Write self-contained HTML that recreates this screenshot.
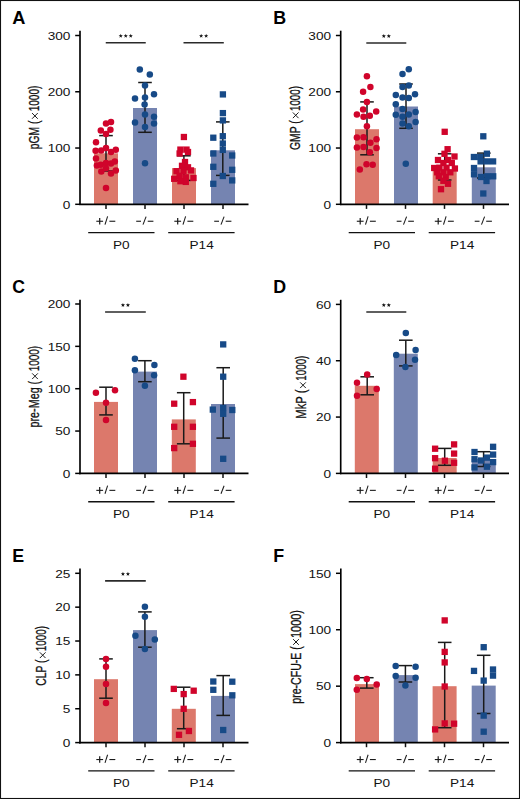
<!DOCTYPE html>
<html><head><meta charset="utf-8"><title>Figure</title>
<style>
html,body{margin:0;padding:0;background:#fff;}
svg{display:block;font-family:"Liberation Sans", sans-serif;}
</style></head>
<body>
<svg width="520" height="799" viewBox="0 0 520 799">
<rect x="0" y="0" width="520" height="799" fill="#fff"/>
<rect x="94" y="153.3" width="24" height="51" fill="#dc786b"/>
<rect x="133" y="108" width="24" height="96.3" fill="#7584b1"/>
<rect x="172" y="168.1" width="24" height="36.2" fill="#dc786b"/>
<rect x="211" y="150.3" width="24" height="54" fill="#7584b1"/>
<line x1="106" y1="135.6" x2="106" y2="171" stroke="#1a1a1a" stroke-width="1.5"/>
<line x1="99.2" y1="135.6" x2="112.8" y2="135.6" stroke="#1a1a1a" stroke-width="1.5"/>
<line x1="99.2" y1="171" x2="112.8" y2="171" stroke="#1a1a1a" stroke-width="1.5"/>
<line x1="145" y1="82.5" x2="145" y2="132.3" stroke="#1a1a1a" stroke-width="1.5"/>
<line x1="138.2" y1="82.5" x2="151.8" y2="82.5" stroke="#1a1a1a" stroke-width="1.5"/>
<line x1="138.2" y1="132.3" x2="151.8" y2="132.3" stroke="#1a1a1a" stroke-width="1.5"/>
<line x1="183.9" y1="155.8" x2="183.9" y2="180.4" stroke="#1a1a1a" stroke-width="1.5"/>
<line x1="177.1" y1="155.8" x2="190.7" y2="155.8" stroke="#1a1a1a" stroke-width="1.5"/>
<line x1="177.1" y1="180.4" x2="190.7" y2="180.4" stroke="#1a1a1a" stroke-width="1.5"/>
<line x1="222.8" y1="121.9" x2="222.8" y2="175.4" stroke="#1a1a1a" stroke-width="1.5"/>
<line x1="216" y1="121.9" x2="229.6" y2="121.9" stroke="#1a1a1a" stroke-width="1.5"/>
<line x1="216" y1="175.4" x2="229.6" y2="175.4" stroke="#1a1a1a" stroke-width="1.5"/>
<circle cx="106" cy="123.5" r="3.25" fill="#d0042b"/>
<circle cx="111" cy="121.9" r="3.25" fill="#d0042b"/>
<circle cx="100.8" cy="130.6" r="3.25" fill="#d0042b"/>
<circle cx="110.4" cy="129.8" r="3.25" fill="#d0042b"/>
<circle cx="106" cy="134" r="3.25" fill="#d0042b"/>
<circle cx="96" cy="142.3" r="3.25" fill="#d0042b"/>
<circle cx="95.6" cy="150.8" r="3.25" fill="#d0042b"/>
<circle cx="101.2" cy="150.4" r="3.25" fill="#d0042b"/>
<circle cx="106" cy="147.9" r="3.25" fill="#d0042b"/>
<circle cx="111" cy="152" r="3.25" fill="#d0042b"/>
<circle cx="115.8" cy="149.8" r="3.25" fill="#d0042b"/>
<circle cx="96" cy="158.5" r="3.25" fill="#d0042b"/>
<circle cx="96.9" cy="165.4" r="3.25" fill="#d0042b"/>
<circle cx="100.8" cy="164.8" r="3.25" fill="#d0042b"/>
<circle cx="106" cy="162.9" r="3.25" fill="#d0042b"/>
<circle cx="111" cy="163.5" r="3.25" fill="#d0042b"/>
<circle cx="114.8" cy="161.5" r="3.25" fill="#d0042b"/>
<circle cx="101.3" cy="171.5" r="3.25" fill="#d0042b"/>
<circle cx="106" cy="168.3" r="3.25" fill="#d0042b"/>
<circle cx="111" cy="173.5" r="3.25" fill="#d0042b"/>
<circle cx="115.8" cy="170.6" r="3.25" fill="#d0042b"/>
<circle cx="106" cy="187.9" r="3.25" fill="#d0042b"/>
<circle cx="139.8" cy="69.6" r="3.25" fill="#174a87"/>
<circle cx="149.8" cy="74.4" r="3.25" fill="#174a87"/>
<circle cx="145" cy="85.6" r="3.25" fill="#174a87"/>
<circle cx="135" cy="98.5" r="3.25" fill="#174a87"/>
<circle cx="145" cy="97.5" r="3.25" fill="#174a87"/>
<circle cx="154" cy="94.2" r="3.25" fill="#174a87"/>
<circle cx="144.6" cy="104.6" r="3.25" fill="#174a87"/>
<circle cx="145" cy="114.4" r="3.25" fill="#174a87"/>
<circle cx="135" cy="122.5" r="3.25" fill="#174a87"/>
<circle cx="154" cy="116.7" r="3.25" fill="#174a87"/>
<circle cx="154" cy="123.5" r="3.25" fill="#174a87"/>
<circle cx="145" cy="127" r="3.25" fill="#174a87"/>
<circle cx="145" cy="163.3" r="3.25" fill="#174a87"/>
<rect x="180.75" y="133.85" width="6.3" height="6.3" fill="#d0042b"/>
<rect x="177.25" y="146.45" width="6.3" height="6.3" fill="#d0042b"/>
<rect x="183.35" y="146.45" width="6.3" height="6.3" fill="#d0042b"/>
<rect x="176.45" y="150.35" width="6.3" height="6.3" fill="#d0042b"/>
<rect x="184.85" y="148.85" width="6.3" height="6.3" fill="#d0042b"/>
<rect x="181.85" y="158.85" width="6.3" height="6.3" fill="#d0042b"/>
<rect x="178.85" y="162.65" width="6.3" height="6.3" fill="#d0042b"/>
<rect x="184.85" y="164.15" width="6.3" height="6.3" fill="#d0042b"/>
<rect x="173.35" y="168.05" width="6.3" height="6.3" fill="#d0042b"/>
<rect x="180.35" y="167.85" width="6.3" height="6.3" fill="#d0042b"/>
<rect x="187.85" y="167.25" width="6.3" height="6.3" fill="#d0042b"/>
<rect x="171.05" y="175.65" width="6.3" height="6.3" fill="#d0042b"/>
<rect x="176.45" y="172.65" width="6.3" height="6.3" fill="#d0042b"/>
<rect x="182.65" y="174.15" width="6.3" height="6.3" fill="#d0042b"/>
<rect x="190.35" y="174.85" width="6.3" height="6.3" fill="#d0042b"/>
<rect x="182.65" y="178.75" width="6.3" height="6.3" fill="#d0042b"/>
<rect x="177.25" y="178.05" width="6.3" height="6.3" fill="#d0042b"/>
<rect x="219.75" y="91.25" width="6.3" height="6.3" fill="#174a87"/>
<rect x="219.75" y="109.95" width="6.3" height="6.3" fill="#174a87"/>
<rect x="219.75" y="117.25" width="6.3" height="6.3" fill="#174a87"/>
<rect x="210.15" y="134.55" width="6.3" height="6.3" fill="#174a87"/>
<rect x="219.65" y="133.05" width="6.3" height="6.3" fill="#174a87"/>
<rect x="219.65" y="140.35" width="6.3" height="6.3" fill="#174a87"/>
<rect x="219.65" y="146.75" width="6.3" height="6.3" fill="#174a87"/>
<rect x="210.15" y="150.35" width="6.3" height="6.3" fill="#174a87"/>
<rect x="229.05" y="152.35" width="6.3" height="6.3" fill="#174a87"/>
<rect x="210.15" y="163.65" width="6.3" height="6.3" fill="#174a87"/>
<rect x="229.05" y="166.65" width="6.3" height="6.3" fill="#174a87"/>
<rect x="219.65" y="172.85" width="6.3" height="6.3" fill="#174a87"/>
<rect x="229.05" y="177.25" width="6.3" height="6.3" fill="#174a87"/>
<rect x="210.15" y="180.65" width="6.3" height="6.3" fill="#174a87"/>
<line x1="80" y1="30.7" x2="80" y2="205.1" stroke="#000" stroke-width="1.65"/>
<line x1="79.2" y1="204.3" x2="248.5" y2="204.3" stroke="#000" stroke-width="1.65"/>
<line x1="75.2" y1="35.5" x2="80" y2="35.5" stroke="#000" stroke-width="1.5"/>
<text transform="translate(70.4,39.75) scale(1.156,1)" font-size="11.8" text-anchor="end" font-weight="normal" fill="#111">300</text>
<line x1="75.2" y1="91.77" x2="80" y2="91.77" stroke="#000" stroke-width="1.5"/>
<text transform="translate(70.4,96.02) scale(1.156,1)" font-size="11.8" text-anchor="end" font-weight="normal" fill="#111">200</text>
<line x1="75.2" y1="148.03" x2="80" y2="148.03" stroke="#000" stroke-width="1.5"/>
<text transform="translate(70.4,152.28) scale(1.156,1)" font-size="11.8" text-anchor="end" font-weight="normal" fill="#111">100</text>
<line x1="75.2" y1="204.3" x2="80" y2="204.3" stroke="#000" stroke-width="1.5"/>
<text transform="translate(70.4,208.55) scale(1.156,1)" font-size="11.8" text-anchor="end" font-weight="normal" fill="#111">0</text>
<line x1="106" y1="204.3" x2="106" y2="208.9" stroke="#111" stroke-width="1.5"/>
<line x1="145" y1="204.3" x2="145" y2="208.9" stroke="#111" stroke-width="1.5"/>
<line x1="184" y1="204.3" x2="184" y2="208.9" stroke="#111" stroke-width="1.5"/>
<line x1="223" y1="204.3" x2="223" y2="208.9" stroke="#111" stroke-width="1.5"/>
<line x1="96.3" y1="221.25" x2="103.1" y2="221.25" stroke="#1a1a1a" stroke-width="1.1"/>
<line x1="99.7" y1="217.95" x2="99.7" y2="224.55" stroke="#1a1a1a" stroke-width="1.2"/>
<line x1="105" y1="224.65" x2="107.6" y2="216.45" stroke="#1a1a1a" stroke-width="1.05"/>
<line x1="109.4" y1="221.25" x2="115.3" y2="221.25" stroke="#1a1a1a" stroke-width="1.1"/>
<line x1="136.2" y1="221.25" x2="141" y2="221.25" stroke="#1a1a1a" stroke-width="1.1"/>
<line x1="143" y1="224.65" x2="146.1" y2="216.65" stroke="#1a1a1a" stroke-width="1.05"/>
<line x1="147.7" y1="221.25" x2="153.4" y2="221.25" stroke="#1a1a1a" stroke-width="1.1"/>
<line x1="174.3" y1="221.25" x2="181.1" y2="221.25" stroke="#1a1a1a" stroke-width="1.1"/>
<line x1="177.7" y1="217.95" x2="177.7" y2="224.55" stroke="#1a1a1a" stroke-width="1.2"/>
<line x1="183" y1="224.65" x2="185.6" y2="216.45" stroke="#1a1a1a" stroke-width="1.05"/>
<line x1="187.4" y1="221.25" x2="193.3" y2="221.25" stroke="#1a1a1a" stroke-width="1.1"/>
<line x1="214.2" y1="221.25" x2="219" y2="221.25" stroke="#1a1a1a" stroke-width="1.1"/>
<line x1="221" y1="224.65" x2="224.1" y2="216.65" stroke="#1a1a1a" stroke-width="1.05"/>
<line x1="225.7" y1="221.25" x2="231.4" y2="221.25" stroke="#1a1a1a" stroke-width="1.1"/>
<line x1="88.2" y1="232.6" x2="154.5" y2="232.6" stroke="#111" stroke-width="1.4"/>
<line x1="168.2" y1="232.6" x2="234.6" y2="232.6" stroke="#111" stroke-width="1.4"/>
<text transform="translate(121.3,248.7) scale(1.156,1)" font-size="11.8" text-anchor="middle" font-weight="normal" fill="#111">P0</text>
<text transform="translate(201.6,248.7) scale(1.156,1)" font-size="11.8" text-anchor="middle" font-weight="normal" fill="#111">P14</text>
<line x1="105.75" y1="42.8" x2="145.75" y2="42.8" stroke="#2a2a2a" stroke-width="1.6"/>
<polygon points="120.75,33.7 121.29,35.15 122.84,35.22 121.63,36.19 122.04,37.68 120.75,36.82 119.46,37.68 119.87,36.19 118.66,35.22 120.21,35.15" fill="#111"/>
<polygon points="125.75,33.7 126.29,35.15 127.84,35.22 126.63,36.19 127.04,37.68 125.75,36.82 124.46,37.68 124.87,36.19 123.66,35.22 125.21,35.15" fill="#111"/>
<polygon points="130.75,33.7 131.29,35.15 132.84,35.22 131.63,36.19 132.04,37.68 130.75,36.82 129.46,37.68 129.87,36.19 128.66,35.22 130.21,35.15" fill="#111"/>
<line x1="183.5" y1="42.8" x2="223.8" y2="42.8" stroke="#2a2a2a" stroke-width="1.6"/>
<polygon points="201.15,33.7 201.69,35.15 203.24,35.22 202.03,36.19 202.44,37.68 201.15,36.82 199.86,37.68 200.27,36.19 199.06,35.22 200.61,35.15" fill="#111"/>
<polygon points="206.15,33.7 206.69,35.15 208.24,35.22 207.03,36.19 207.44,37.68 206.15,36.82 204.86,37.68 205.27,36.19 204.06,35.22 205.61,35.15" fill="#111"/>
<text transform="translate(12.2,24) scale(0.95,1)" font-size="19.2" text-anchor="start" font-weight="bold" fill="#000">A</text>
<text transform="translate(38.6,149.26) rotate(-90) scale(0.6893,1)" font-size="15.0" fill="#111" stroke="#111" stroke-width="0.3">pGM (</text>
<text transform="translate(38.6,111.36) rotate(-90) scale(0.6694,1)" font-size="15.0" fill="#111" stroke="#111" stroke-width="0.3">1000)</text>
<line x1="32.05" y1="113.05" x2="37.75" y2="118.75" stroke="#111" stroke-width="0.95"/>
<line x1="32.05" y1="118.75" x2="37.75" y2="113.05" stroke="#111" stroke-width="0.95"/>
<rect x="355" y="129.2" width="24" height="75.1" fill="#dc786b"/>
<rect x="394" y="106.5" width="24" height="97.8" fill="#7584b1"/>
<rect x="432.7" y="171" width="24" height="33.3" fill="#dc786b"/>
<rect x="471.8" y="167.3" width="24" height="37" fill="#7584b1"/>
<line x1="367" y1="101.9" x2="367" y2="154.8" stroke="#1a1a1a" stroke-width="1.5"/>
<line x1="360.2" y1="101.9" x2="373.8" y2="101.9" stroke="#1a1a1a" stroke-width="1.5"/>
<line x1="360.2" y1="154.8" x2="373.8" y2="154.8" stroke="#1a1a1a" stroke-width="1.5"/>
<line x1="406" y1="84" x2="406" y2="128.3" stroke="#1a1a1a" stroke-width="1.5"/>
<line x1="399.2" y1="84" x2="412.8" y2="84" stroke="#1a1a1a" stroke-width="1.5"/>
<line x1="399.2" y1="128.3" x2="412.8" y2="128.3" stroke="#1a1a1a" stroke-width="1.5"/>
<line x1="444.7" y1="153.8" x2="444.7" y2="180" stroke="#1a1a1a" stroke-width="1.5"/>
<line x1="437.9" y1="153.8" x2="451.5" y2="153.8" stroke="#1a1a1a" stroke-width="1.5"/>
<line x1="437.9" y1="180" x2="451.5" y2="180" stroke="#1a1a1a" stroke-width="1.5"/>
<line x1="483.8" y1="153.1" x2="483.8" y2="178" stroke="#1a1a1a" stroke-width="1.5"/>
<line x1="477" y1="153.1" x2="490.6" y2="153.1" stroke="#1a1a1a" stroke-width="1.5"/>
<line x1="477" y1="178" x2="490.6" y2="178" stroke="#1a1a1a" stroke-width="1.5"/>
<circle cx="366.9" cy="76.3" r="3.25" fill="#d0042b"/>
<circle cx="370.4" cy="86.9" r="3.25" fill="#d0042b"/>
<circle cx="363.1" cy="91.7" r="3.25" fill="#d0042b"/>
<circle cx="366.9" cy="101.9" r="3.25" fill="#d0042b"/>
<circle cx="363.1" cy="109.6" r="3.25" fill="#d0042b"/>
<circle cx="376.2" cy="111.5" r="3.25" fill="#d0042b"/>
<circle cx="356.9" cy="114.4" r="3.25" fill="#d0042b"/>
<circle cx="363.5" cy="116.7" r="3.25" fill="#d0042b"/>
<circle cx="369.8" cy="115.8" r="3.25" fill="#d0042b"/>
<circle cx="366.9" cy="126.3" r="3.25" fill="#d0042b"/>
<circle cx="356.9" cy="137.5" r="3.25" fill="#d0042b"/>
<circle cx="363.5" cy="137.3" r="3.25" fill="#d0042b"/>
<circle cx="376.5" cy="139.2" r="3.25" fill="#d0042b"/>
<circle cx="370.4" cy="142.7" r="3.25" fill="#d0042b"/>
<circle cx="356.9" cy="147.5" r="3.25" fill="#d0042b"/>
<circle cx="363.5" cy="146.9" r="3.25" fill="#d0042b"/>
<circle cx="376.5" cy="148.1" r="3.25" fill="#d0042b"/>
<circle cx="369.8" cy="152.3" r="3.25" fill="#d0042b"/>
<circle cx="366.5" cy="164.2" r="3.25" fill="#d0042b"/>
<circle cx="372.7" cy="164.8" r="3.25" fill="#d0042b"/>
<circle cx="359.8" cy="169.4" r="3.25" fill="#d0042b"/>
<circle cx="408.8" cy="69.2" r="3.25" fill="#174a87"/>
<circle cx="402.5" cy="74" r="3.25" fill="#174a87"/>
<circle cx="402.5" cy="86.9" r="3.25" fill="#174a87"/>
<circle cx="408.8" cy="85.6" r="3.25" fill="#174a87"/>
<circle cx="395.8" cy="95" r="3.25" fill="#174a87"/>
<circle cx="415" cy="94.2" r="3.25" fill="#174a87"/>
<circle cx="402.5" cy="97.5" r="3.25" fill="#174a87"/>
<circle cx="408.8" cy="98.1" r="3.25" fill="#174a87"/>
<circle cx="395.8" cy="104.2" r="3.25" fill="#174a87"/>
<circle cx="402.5" cy="109" r="3.25" fill="#174a87"/>
<circle cx="395.8" cy="114.8" r="3.25" fill="#174a87"/>
<circle cx="402.5" cy="116.7" r="3.25" fill="#174a87"/>
<circle cx="408.8" cy="114.4" r="3.25" fill="#174a87"/>
<circle cx="415.6" cy="111.9" r="3.25" fill="#174a87"/>
<circle cx="415.6" cy="121.9" r="3.25" fill="#174a87"/>
<circle cx="402.5" cy="123.5" r="3.25" fill="#174a87"/>
<circle cx="408.8" cy="126.3" r="3.25" fill="#174a87"/>
<circle cx="405.8" cy="163.8" r="3.25" fill="#174a87"/>
<rect x="441.55" y="128.65" width="6.3" height="6.3" fill="#d0042b"/>
<rect x="444.45" y="146.05" width="6.3" height="6.3" fill="#d0042b"/>
<rect x="441.35" y="150.65" width="6.3" height="6.3" fill="#d0042b"/>
<rect x="451.35" y="153.35" width="6.3" height="6.3" fill="#d0042b"/>
<rect x="434.85" y="156.85" width="6.3" height="6.3" fill="#d0042b"/>
<rect x="444.85" y="156.85" width="6.3" height="6.3" fill="#d0042b"/>
<rect x="440.25" y="159.85" width="6.3" height="6.3" fill="#d0042b"/>
<rect x="448.65" y="159.85" width="6.3" height="6.3" fill="#d0042b"/>
<rect x="431.05" y="164.85" width="6.3" height="6.3" fill="#d0042b"/>
<rect x="436.35" y="164.55" width="6.3" height="6.3" fill="#d0042b"/>
<rect x="443.35" y="164.55" width="6.3" height="6.3" fill="#d0042b"/>
<rect x="451.75" y="165.35" width="6.3" height="6.3" fill="#d0042b"/>
<rect x="434.05" y="169.15" width="6.3" height="6.3" fill="#d0042b"/>
<rect x="440.25" y="169.15" width="6.3" height="6.3" fill="#d0042b"/>
<rect x="447.15" y="169.15" width="6.3" height="6.3" fill="#d0042b"/>
<rect x="435.65" y="173.05" width="6.3" height="6.3" fill="#d0042b"/>
<rect x="442.55" y="173.85" width="6.3" height="6.3" fill="#d0042b"/>
<rect x="440.25" y="177.65" width="6.3" height="6.3" fill="#d0042b"/>
<rect x="444.85" y="180.65" width="6.3" height="6.3" fill="#d0042b"/>
<rect x="437.85" y="186.05" width="6.3" height="6.3" fill="#d0042b"/>
<rect x="480.15" y="133.15" width="6.3" height="6.3" fill="#174a87"/>
<rect x="483.75" y="150.55" width="6.3" height="6.3" fill="#174a87"/>
<rect x="470.75" y="153.85" width="6.3" height="6.3" fill="#174a87"/>
<rect x="477.05" y="153.85" width="6.3" height="6.3" fill="#174a87"/>
<rect x="477.45" y="158.25" width="6.3" height="6.3" fill="#174a87"/>
<rect x="483.75" y="158.25" width="6.3" height="6.3" fill="#174a87"/>
<rect x="489.95" y="158.25" width="6.3" height="6.3" fill="#174a87"/>
<rect x="470.85" y="164.85" width="6.3" height="6.3" fill="#174a87"/>
<rect x="470.85" y="171.15" width="6.3" height="6.3" fill="#174a87"/>
<rect x="477.85" y="173.85" width="6.3" height="6.3" fill="#174a87"/>
<rect x="484.25" y="173.15" width="6.3" height="6.3" fill="#174a87"/>
<rect x="490.05" y="173.15" width="6.3" height="6.3" fill="#174a87"/>
<rect x="483.35" y="177.85" width="6.3" height="6.3" fill="#174a87"/>
<rect x="480.15" y="190.35" width="6.3" height="6.3" fill="#174a87"/>
<line x1="340.7" y1="30.7" x2="340.7" y2="205.1" stroke="#000" stroke-width="1.65"/>
<line x1="339.9" y1="204.3" x2="509" y2="204.3" stroke="#000" stroke-width="1.65"/>
<line x1="335.9" y1="35.5" x2="340.7" y2="35.5" stroke="#000" stroke-width="1.5"/>
<text transform="translate(331.1,39.75) scale(1.156,1)" font-size="11.8" text-anchor="end" font-weight="normal" fill="#111">300</text>
<line x1="335.9" y1="91.77" x2="340.7" y2="91.77" stroke="#000" stroke-width="1.5"/>
<text transform="translate(331.1,96.02) scale(1.156,1)" font-size="11.8" text-anchor="end" font-weight="normal" fill="#111">200</text>
<line x1="335.9" y1="148.03" x2="340.7" y2="148.03" stroke="#000" stroke-width="1.5"/>
<text transform="translate(331.1,152.28) scale(1.156,1)" font-size="11.8" text-anchor="end" font-weight="normal" fill="#111">100</text>
<line x1="335.9" y1="204.3" x2="340.7" y2="204.3" stroke="#000" stroke-width="1.5"/>
<text transform="translate(331.1,208.55) scale(1.156,1)" font-size="11.8" text-anchor="end" font-weight="normal" fill="#111">0</text>
<line x1="366.5" y1="204.3" x2="366.5" y2="208.9" stroke="#111" stroke-width="1.5"/>
<line x1="405.5" y1="204.3" x2="405.5" y2="208.9" stroke="#111" stroke-width="1.5"/>
<line x1="444.5" y1="204.3" x2="444.5" y2="208.9" stroke="#111" stroke-width="1.5"/>
<line x1="483.5" y1="204.3" x2="483.5" y2="208.9" stroke="#111" stroke-width="1.5"/>
<line x1="356.8" y1="221.25" x2="363.6" y2="221.25" stroke="#1a1a1a" stroke-width="1.1"/>
<line x1="360.2" y1="217.95" x2="360.2" y2="224.55" stroke="#1a1a1a" stroke-width="1.2"/>
<line x1="365.5" y1="224.65" x2="368.1" y2="216.45" stroke="#1a1a1a" stroke-width="1.05"/>
<line x1="369.9" y1="221.25" x2="375.8" y2="221.25" stroke="#1a1a1a" stroke-width="1.1"/>
<line x1="396.7" y1="221.25" x2="401.5" y2="221.25" stroke="#1a1a1a" stroke-width="1.1"/>
<line x1="403.5" y1="224.65" x2="406.6" y2="216.65" stroke="#1a1a1a" stroke-width="1.05"/>
<line x1="408.2" y1="221.25" x2="413.9" y2="221.25" stroke="#1a1a1a" stroke-width="1.1"/>
<line x1="434.8" y1="221.25" x2="441.6" y2="221.25" stroke="#1a1a1a" stroke-width="1.1"/>
<line x1="438.2" y1="217.95" x2="438.2" y2="224.55" stroke="#1a1a1a" stroke-width="1.2"/>
<line x1="443.5" y1="224.65" x2="446.1" y2="216.45" stroke="#1a1a1a" stroke-width="1.05"/>
<line x1="447.9" y1="221.25" x2="453.8" y2="221.25" stroke="#1a1a1a" stroke-width="1.1"/>
<line x1="474.7" y1="221.25" x2="479.5" y2="221.25" stroke="#1a1a1a" stroke-width="1.1"/>
<line x1="481.5" y1="224.65" x2="484.6" y2="216.65" stroke="#1a1a1a" stroke-width="1.05"/>
<line x1="486.2" y1="221.25" x2="491.9" y2="221.25" stroke="#1a1a1a" stroke-width="1.1"/>
<line x1="348.7" y1="232.6" x2="415" y2="232.6" stroke="#111" stroke-width="1.4"/>
<line x1="428.7" y1="232.6" x2="495.1" y2="232.6" stroke="#111" stroke-width="1.4"/>
<text transform="translate(381.8,248.7) scale(1.156,1)" font-size="11.8" text-anchor="middle" font-weight="normal" fill="#111">P0</text>
<text transform="translate(462.1,248.7) scale(1.156,1)" font-size="11.8" text-anchor="middle" font-weight="normal" fill="#111">P14</text>
<line x1="366.3" y1="43" x2="406.3" y2="43" stroke="#2a2a2a" stroke-width="1.6"/>
<polygon points="383.8,33.9 384.34,35.35 385.89,35.42 384.68,36.39 385.09,37.88 383.8,37.02 382.51,37.88 382.92,36.39 381.71,35.42 383.26,35.35" fill="#111"/>
<polygon points="388.8,33.9 389.34,35.35 390.89,35.42 389.68,36.39 390.09,37.88 388.8,37.02 387.51,37.88 387.92,36.39 386.71,35.42 388.26,35.35" fill="#111"/>
<text transform="translate(273.2,23.7) scale(0.93,1)" font-size="19.2" text-anchor="start" font-weight="bold" fill="#000">B</text>
<text transform="translate(299.6,150.12) rotate(-90) scale(0.6963,1)" font-size="15.0" fill="#111" stroke="#111" stroke-width="0.3">GMP (</text>
<text transform="translate(299.6,110.94) rotate(-90) scale(0.6474,1)" font-size="15.0" fill="#111" stroke="#111" stroke-width="0.3">1000)</text>
<line x1="292.85" y1="112.45" x2="298.55" y2="118.15" stroke="#111" stroke-width="0.95"/>
<line x1="292.85" y1="118.15" x2="298.55" y2="112.45" stroke="#111" stroke-width="0.95"/>
<rect x="94" y="401.9" width="24" height="71.5" fill="#dc786b"/>
<rect x="133" y="371.6" width="24" height="101.8" fill="#7584b1"/>
<rect x="171.8" y="419.4" width="24" height="54" fill="#dc786b"/>
<rect x="211" y="404" width="24" height="69.4" fill="#7584b1"/>
<line x1="106" y1="387.2" x2="106" y2="414.9" stroke="#1a1a1a" stroke-width="1.5"/>
<line x1="99.2" y1="387.2" x2="112.8" y2="387.2" stroke="#1a1a1a" stroke-width="1.5"/>
<line x1="99.2" y1="414.9" x2="112.8" y2="414.9" stroke="#1a1a1a" stroke-width="1.5"/>
<line x1="144.9" y1="360.7" x2="144.9" y2="381.7" stroke="#1a1a1a" stroke-width="1.5"/>
<line x1="138.1" y1="360.7" x2="151.7" y2="360.7" stroke="#1a1a1a" stroke-width="1.5"/>
<line x1="138.1" y1="381.7" x2="151.7" y2="381.7" stroke="#1a1a1a" stroke-width="1.5"/>
<line x1="183.7" y1="392.7" x2="183.7" y2="443.8" stroke="#1a1a1a" stroke-width="1.5"/>
<line x1="176.9" y1="392.7" x2="190.5" y2="392.7" stroke="#1a1a1a" stroke-width="1.5"/>
<line x1="176.9" y1="443.8" x2="190.5" y2="443.8" stroke="#1a1a1a" stroke-width="1.5"/>
<line x1="223.2" y1="367.7" x2="223.2" y2="438.1" stroke="#1a1a1a" stroke-width="1.5"/>
<line x1="216.4" y1="367.7" x2="230" y2="367.7" stroke="#1a1a1a" stroke-width="1.5"/>
<line x1="216.4" y1="438.1" x2="230" y2="438.1" stroke="#1a1a1a" stroke-width="1.5"/>
<circle cx="95.9" cy="392.7" r="3.25" fill="#d0042b"/>
<circle cx="115" cy="390.2" r="3.25" fill="#d0042b"/>
<circle cx="106" cy="402.8" r="3.25" fill="#d0042b"/>
<circle cx="106" cy="420.1" r="3.25" fill="#d0042b"/>
<circle cx="134.9" cy="358.7" r="3.25" fill="#174a87"/>
<circle cx="154.4" cy="364.9" r="3.25" fill="#174a87"/>
<circle cx="134.9" cy="370.3" r="3.25" fill="#174a87"/>
<circle cx="154.1" cy="375.3" r="3.25" fill="#174a87"/>
<circle cx="144.9" cy="385.8" r="3.25" fill="#174a87"/>
<rect x="180.25" y="373.55" width="6.3" height="6.3" fill="#d0042b"/>
<rect x="171.05" y="400.55" width="6.3" height="6.3" fill="#d0042b"/>
<rect x="189.75" y="398.95" width="6.3" height="6.3" fill="#d0042b"/>
<rect x="171.05" y="423.65" width="6.3" height="6.3" fill="#d0042b"/>
<rect x="189.75" y="423.65" width="6.3" height="6.3" fill="#d0042b"/>
<rect x="171.05" y="444.95" width="6.3" height="6.3" fill="#d0042b"/>
<rect x="189.75" y="440.65" width="6.3" height="6.3" fill="#d0042b"/>
<rect x="220.05" y="341.25" width="6.3" height="6.3" fill="#174a87"/>
<rect x="220.05" y="373.55" width="6.3" height="6.3" fill="#174a87"/>
<rect x="209.65" y="406.45" width="6.3" height="6.3" fill="#174a87"/>
<rect x="220.05" y="404.85" width="6.3" height="6.3" fill="#174a87"/>
<rect x="220.05" y="410.65" width="6.3" height="6.3" fill="#174a87"/>
<rect x="229.15" y="406.85" width="6.3" height="6.3" fill="#174a87"/>
<rect x="220.05" y="455.65" width="6.3" height="6.3" fill="#174a87"/>
<line x1="80" y1="299.8" x2="80" y2="474.2" stroke="#000" stroke-width="1.65"/>
<line x1="79.2" y1="473.4" x2="248.5" y2="473.4" stroke="#000" stroke-width="1.65"/>
<line x1="75.2" y1="304" x2="80" y2="304" stroke="#000" stroke-width="1.5"/>
<text transform="translate(70.4,308.25) scale(1.156,1)" font-size="11.8" text-anchor="end" font-weight="normal" fill="#111">200</text>
<line x1="75.2" y1="346.35" x2="80" y2="346.35" stroke="#000" stroke-width="1.5"/>
<text transform="translate(70.4,350.6) scale(1.156,1)" font-size="11.8" text-anchor="end" font-weight="normal" fill="#111">150</text>
<line x1="75.2" y1="388.7" x2="80" y2="388.7" stroke="#000" stroke-width="1.5"/>
<text transform="translate(70.4,392.95) scale(1.156,1)" font-size="11.8" text-anchor="end" font-weight="normal" fill="#111">100</text>
<line x1="75.2" y1="431.05" x2="80" y2="431.05" stroke="#000" stroke-width="1.5"/>
<text transform="translate(70.4,435.3) scale(1.156,1)" font-size="11.8" text-anchor="end" font-weight="normal" fill="#111">50</text>
<line x1="75.2" y1="473.4" x2="80" y2="473.4" stroke="#000" stroke-width="1.5"/>
<text transform="translate(70.4,477.65) scale(1.156,1)" font-size="11.8" text-anchor="end" font-weight="normal" fill="#111">0</text>
<line x1="106" y1="473.4" x2="106" y2="478" stroke="#111" stroke-width="1.5"/>
<line x1="145" y1="473.4" x2="145" y2="478" stroke="#111" stroke-width="1.5"/>
<line x1="184" y1="473.4" x2="184" y2="478" stroke="#111" stroke-width="1.5"/>
<line x1="223" y1="473.4" x2="223" y2="478" stroke="#111" stroke-width="1.5"/>
<line x1="96.3" y1="490.35" x2="103.1" y2="490.35" stroke="#1a1a1a" stroke-width="1.1"/>
<line x1="99.7" y1="487.05" x2="99.7" y2="493.65" stroke="#1a1a1a" stroke-width="1.2"/>
<line x1="105" y1="493.75" x2="107.6" y2="485.55" stroke="#1a1a1a" stroke-width="1.05"/>
<line x1="109.4" y1="490.35" x2="115.3" y2="490.35" stroke="#1a1a1a" stroke-width="1.1"/>
<line x1="136.2" y1="490.35" x2="141" y2="490.35" stroke="#1a1a1a" stroke-width="1.1"/>
<line x1="143" y1="493.75" x2="146.1" y2="485.75" stroke="#1a1a1a" stroke-width="1.05"/>
<line x1="147.7" y1="490.35" x2="153.4" y2="490.35" stroke="#1a1a1a" stroke-width="1.1"/>
<line x1="174.3" y1="490.35" x2="181.1" y2="490.35" stroke="#1a1a1a" stroke-width="1.1"/>
<line x1="177.7" y1="487.05" x2="177.7" y2="493.65" stroke="#1a1a1a" stroke-width="1.2"/>
<line x1="183" y1="493.75" x2="185.6" y2="485.55" stroke="#1a1a1a" stroke-width="1.05"/>
<line x1="187.4" y1="490.35" x2="193.3" y2="490.35" stroke="#1a1a1a" stroke-width="1.1"/>
<line x1="214.2" y1="490.35" x2="219" y2="490.35" stroke="#1a1a1a" stroke-width="1.1"/>
<line x1="221" y1="493.75" x2="224.1" y2="485.75" stroke="#1a1a1a" stroke-width="1.05"/>
<line x1="225.7" y1="490.35" x2="231.4" y2="490.35" stroke="#1a1a1a" stroke-width="1.1"/>
<line x1="88.2" y1="501.7" x2="154.5" y2="501.7" stroke="#111" stroke-width="1.4"/>
<line x1="168.2" y1="501.7" x2="234.6" y2="501.7" stroke="#111" stroke-width="1.4"/>
<text transform="translate(121.3,517.8) scale(1.156,1)" font-size="11.8" text-anchor="middle" font-weight="normal" fill="#111">P0</text>
<text transform="translate(201.6,517.8) scale(1.156,1)" font-size="11.8" text-anchor="middle" font-weight="normal" fill="#111">P14</text>
<line x1="105.1" y1="312" x2="145.8" y2="312" stroke="#2a2a2a" stroke-width="1.6"/>
<polygon points="122.95,302.9 123.49,304.35 125.04,304.42 123.83,305.39 124.24,306.88 122.95,306.02 121.66,306.88 122.07,305.39 120.86,304.42 122.41,304.35" fill="#111"/>
<polygon points="127.95,302.9 128.49,304.35 130.04,304.42 128.83,305.39 129.24,306.88 127.95,306.02 126.66,306.88 127.07,305.39 125.86,304.42 127.41,304.35" fill="#111"/>
<text transform="translate(12.2,293.2) scale(0.92,1)" font-size="19.2" text-anchor="start" font-weight="bold" fill="#000">C</text>
<text transform="translate(38.6,427.49) rotate(-90) scale(0.7190,1)" font-size="15.0" fill="#111" stroke="#111" stroke-width="0.3">pre-Meg (</text>
<text transform="translate(38.6,371.35) rotate(-90) scale(0.6612,1)" font-size="15.0" fill="#111" stroke="#111" stroke-width="0.3">1000)</text>
<line x1="32.15" y1="373.35" x2="37.85" y2="379.05" stroke="#111" stroke-width="0.95"/>
<line x1="32.15" y1="379.05" x2="37.85" y2="373.35" stroke="#111" stroke-width="0.95"/>
<rect x="354.8" y="385.8" width="24" height="87.6" fill="#dc786b"/>
<rect x="393.8" y="353.7" width="24" height="119.7" fill="#7584b1"/>
<rect x="432.7" y="458" width="24" height="15.4" fill="#dc786b"/>
<rect x="471.8" y="459" width="24" height="14.4" fill="#7584b1"/>
<line x1="367.2" y1="376.8" x2="367.2" y2="394.8" stroke="#1a1a1a" stroke-width="1.5"/>
<line x1="360.4" y1="376.8" x2="374" y2="376.8" stroke="#1a1a1a" stroke-width="1.5"/>
<line x1="360.4" y1="394.8" x2="374" y2="394.8" stroke="#1a1a1a" stroke-width="1.5"/>
<line x1="405.8" y1="340.2" x2="405.8" y2="365.9" stroke="#1a1a1a" stroke-width="1.5"/>
<line x1="399" y1="340.2" x2="412.6" y2="340.2" stroke="#1a1a1a" stroke-width="1.5"/>
<line x1="399" y1="365.9" x2="412.6" y2="365.9" stroke="#1a1a1a" stroke-width="1.5"/>
<line x1="444.7" y1="448.4" x2="444.7" y2="465.3" stroke="#1a1a1a" stroke-width="1.5"/>
<line x1="437.9" y1="448.4" x2="451.5" y2="448.4" stroke="#1a1a1a" stroke-width="1.5"/>
<line x1="437.9" y1="465.3" x2="451.5" y2="465.3" stroke="#1a1a1a" stroke-width="1.5"/>
<line x1="483.6" y1="451.7" x2="483.6" y2="466.5" stroke="#1a1a1a" stroke-width="1.5"/>
<line x1="476.8" y1="451.7" x2="490.4" y2="451.7" stroke="#1a1a1a" stroke-width="1.5"/>
<line x1="476.8" y1="466.5" x2="490.4" y2="466.5" stroke="#1a1a1a" stroke-width="1.5"/>
<circle cx="367.2" cy="374.5" r="3.25" fill="#d0042b"/>
<circle cx="357" cy="382.8" r="3.25" fill="#d0042b"/>
<circle cx="376.7" cy="388.9" r="3.25" fill="#d0042b"/>
<circle cx="357" cy="395.8" r="3.25" fill="#d0042b"/>
<circle cx="405.8" cy="333" r="3.25" fill="#174a87"/>
<circle cx="396.2" cy="355" r="3.25" fill="#174a87"/>
<circle cx="415.6" cy="350" r="3.25" fill="#174a87"/>
<circle cx="415" cy="359.8" r="3.25" fill="#174a87"/>
<circle cx="405.4" cy="367.1" r="3.25" fill="#174a87"/>
<rect x="431.95" y="445.55" width="6.3" height="6.3" fill="#d0042b"/>
<rect x="450.95" y="441.25" width="6.3" height="6.3" fill="#d0042b"/>
<rect x="450.95" y="450.45" width="6.3" height="6.3" fill="#d0042b"/>
<rect x="431.95" y="455.05" width="6.3" height="6.3" fill="#d0042b"/>
<rect x="441.75" y="457.55" width="6.3" height="6.3" fill="#d0042b"/>
<rect x="450.95" y="459.65" width="6.3" height="6.3" fill="#d0042b"/>
<rect x="431.95" y="465.55" width="6.3" height="6.3" fill="#d0042b"/>
<rect x="471.35" y="448.85" width="6.3" height="6.3" fill="#174a87"/>
<rect x="489.95" y="443.65" width="6.3" height="6.3" fill="#174a87"/>
<rect x="489.95" y="451.45" width="6.3" height="6.3" fill="#174a87"/>
<rect x="471.35" y="456.05" width="6.3" height="6.3" fill="#174a87"/>
<rect x="477.85" y="457.35" width="6.3" height="6.3" fill="#174a87"/>
<rect x="483.75" y="454.45" width="6.3" height="6.3" fill="#174a87"/>
<rect x="489.95" y="458.95" width="6.3" height="6.3" fill="#174a87"/>
<rect x="471.35" y="464.25" width="6.3" height="6.3" fill="#174a87"/>
<rect x="483.75" y="463.55" width="6.3" height="6.3" fill="#174a87"/>
<line x1="340.7" y1="299.8" x2="340.7" y2="474.2" stroke="#000" stroke-width="1.65"/>
<line x1="339.9" y1="473.4" x2="509" y2="473.4" stroke="#000" stroke-width="1.65"/>
<line x1="335.9" y1="304.4" x2="340.7" y2="304.4" stroke="#000" stroke-width="1.5"/>
<text transform="translate(331.1,308.65) scale(1.156,1)" font-size="11.8" text-anchor="end" font-weight="normal" fill="#111">60</text>
<line x1="335.9" y1="360.73" x2="340.7" y2="360.73" stroke="#000" stroke-width="1.5"/>
<text transform="translate(331.1,364.98) scale(1.156,1)" font-size="11.8" text-anchor="end" font-weight="normal" fill="#111">40</text>
<line x1="335.9" y1="417.07" x2="340.7" y2="417.07" stroke="#000" stroke-width="1.5"/>
<text transform="translate(331.1,421.32) scale(1.156,1)" font-size="11.8" text-anchor="end" font-weight="normal" fill="#111">20</text>
<line x1="335.9" y1="473.4" x2="340.7" y2="473.4" stroke="#000" stroke-width="1.5"/>
<text transform="translate(331.1,477.65) scale(1.156,1)" font-size="11.8" text-anchor="end" font-weight="normal" fill="#111">0</text>
<line x1="366.5" y1="473.4" x2="366.5" y2="478" stroke="#111" stroke-width="1.5"/>
<line x1="405.5" y1="473.4" x2="405.5" y2="478" stroke="#111" stroke-width="1.5"/>
<line x1="444.5" y1="473.4" x2="444.5" y2="478" stroke="#111" stroke-width="1.5"/>
<line x1="483.5" y1="473.4" x2="483.5" y2="478" stroke="#111" stroke-width="1.5"/>
<line x1="356.8" y1="490.35" x2="363.6" y2="490.35" stroke="#1a1a1a" stroke-width="1.1"/>
<line x1="360.2" y1="487.05" x2="360.2" y2="493.65" stroke="#1a1a1a" stroke-width="1.2"/>
<line x1="365.5" y1="493.75" x2="368.1" y2="485.55" stroke="#1a1a1a" stroke-width="1.05"/>
<line x1="369.9" y1="490.35" x2="375.8" y2="490.35" stroke="#1a1a1a" stroke-width="1.1"/>
<line x1="396.7" y1="490.35" x2="401.5" y2="490.35" stroke="#1a1a1a" stroke-width="1.1"/>
<line x1="403.5" y1="493.75" x2="406.6" y2="485.75" stroke="#1a1a1a" stroke-width="1.05"/>
<line x1="408.2" y1="490.35" x2="413.9" y2="490.35" stroke="#1a1a1a" stroke-width="1.1"/>
<line x1="434.8" y1="490.35" x2="441.6" y2="490.35" stroke="#1a1a1a" stroke-width="1.1"/>
<line x1="438.2" y1="487.05" x2="438.2" y2="493.65" stroke="#1a1a1a" stroke-width="1.2"/>
<line x1="443.5" y1="493.75" x2="446.1" y2="485.55" stroke="#1a1a1a" stroke-width="1.05"/>
<line x1="447.9" y1="490.35" x2="453.8" y2="490.35" stroke="#1a1a1a" stroke-width="1.1"/>
<line x1="474.7" y1="490.35" x2="479.5" y2="490.35" stroke="#1a1a1a" stroke-width="1.1"/>
<line x1="481.5" y1="493.75" x2="484.6" y2="485.75" stroke="#1a1a1a" stroke-width="1.05"/>
<line x1="486.2" y1="490.35" x2="491.9" y2="490.35" stroke="#1a1a1a" stroke-width="1.1"/>
<line x1="348.7" y1="501.7" x2="415" y2="501.7" stroke="#111" stroke-width="1.4"/>
<line x1="428.7" y1="501.7" x2="495.1" y2="501.7" stroke="#111" stroke-width="1.4"/>
<text transform="translate(381.8,517.8) scale(1.156,1)" font-size="11.8" text-anchor="middle" font-weight="normal" fill="#111">P0</text>
<text transform="translate(462.1,517.8) scale(1.156,1)" font-size="11.8" text-anchor="middle" font-weight="normal" fill="#111">P14</text>
<line x1="366.3" y1="312" x2="406.3" y2="312" stroke="#2a2a2a" stroke-width="1.6"/>
<polygon points="383.8,302.9 384.34,304.35 385.89,304.42 384.68,305.39 385.09,306.88 383.8,306.02 382.51,306.88 382.92,305.39 381.71,304.42 383.26,304.35" fill="#111"/>
<polygon points="388.8,302.9 389.34,304.35 390.89,304.42 389.68,305.39 390.09,306.88 388.8,306.02 387.51,306.88 387.92,305.39 386.71,304.42 388.26,304.35" fill="#111"/>
<text transform="translate(273.2,293.2) scale(0.93,1)" font-size="19.2" text-anchor="start" font-weight="bold" fill="#000">D</text>
<text transform="translate(306.4,418.72) rotate(-90) scale(0.7505,1)" font-size="15.0" fill="#111" stroke="#111" stroke-width="0.3">MkP (</text>
<text transform="translate(306.4,380.75) rotate(-90) scale(0.6556,1)" font-size="15.0" fill="#111" stroke="#111" stroke-width="0.3">1000)</text>
<line x1="300.15" y1="382.35" x2="305.85" y2="388.05" stroke="#111" stroke-width="0.95"/>
<line x1="300.15" y1="388.05" x2="305.85" y2="382.35" stroke="#111" stroke-width="0.95"/>
<rect x="94" y="679.2" width="24" height="63.4" fill="#dc786b"/>
<rect x="133" y="630.1" width="24" height="112.5" fill="#7584b1"/>
<rect x="171.8" y="708.8" width="24" height="33.8" fill="#dc786b"/>
<rect x="211" y="695.9" width="24" height="46.7" fill="#7584b1"/>
<line x1="106" y1="658.9" x2="106" y2="698.2" stroke="#1a1a1a" stroke-width="1.5"/>
<line x1="99.2" y1="658.9" x2="112.8" y2="658.9" stroke="#1a1a1a" stroke-width="1.5"/>
<line x1="99.2" y1="698.2" x2="112.8" y2="698.2" stroke="#1a1a1a" stroke-width="1.5"/>
<line x1="144.9" y1="611.9" x2="144.9" y2="647.2" stroke="#1a1a1a" stroke-width="1.5"/>
<line x1="138.1" y1="611.9" x2="151.7" y2="611.9" stroke="#1a1a1a" stroke-width="1.5"/>
<line x1="138.1" y1="647.2" x2="151.7" y2="647.2" stroke="#1a1a1a" stroke-width="1.5"/>
<line x1="183.7" y1="687.2" x2="183.7" y2="728.7" stroke="#1a1a1a" stroke-width="1.5"/>
<line x1="176.9" y1="687.2" x2="190.5" y2="687.2" stroke="#1a1a1a" stroke-width="1.5"/>
<line x1="176.9" y1="728.7" x2="190.5" y2="728.7" stroke="#1a1a1a" stroke-width="1.5"/>
<line x1="223.2" y1="675.6" x2="223.2" y2="715.4" stroke="#1a1a1a" stroke-width="1.5"/>
<line x1="216.4" y1="675.6" x2="230" y2="675.6" stroke="#1a1a1a" stroke-width="1.5"/>
<line x1="216.4" y1="715.4" x2="230" y2="715.4" stroke="#1a1a1a" stroke-width="1.5"/>
<circle cx="106" cy="658.9" r="3.25" fill="#d0042b"/>
<circle cx="106" cy="666.7" r="3.25" fill="#d0042b"/>
<circle cx="106" cy="684" r="3.25" fill="#d0042b"/>
<circle cx="106" cy="703.1" r="3.25" fill="#d0042b"/>
<circle cx="144.9" cy="606.7" r="3.25" fill="#174a87"/>
<circle cx="144.9" cy="616.8" r="3.25" fill="#174a87"/>
<circle cx="135.4" cy="635.7" r="3.25" fill="#174a87"/>
<circle cx="154.8" cy="639.6" r="3.25" fill="#174a87"/>
<circle cx="144.9" cy="649.1" r="3.25" fill="#174a87"/>
<rect x="170.65" y="685.75" width="6.3" height="6.3" fill="#d0042b"/>
<rect x="190.55" y="687.55" width="6.3" height="6.3" fill="#d0042b"/>
<rect x="180.55" y="690.95" width="6.3" height="6.3" fill="#d0042b"/>
<rect x="180.55" y="705.65" width="6.3" height="6.3" fill="#d0042b"/>
<rect x="185.75" y="727.85" width="6.3" height="6.3" fill="#d0042b"/>
<rect x="175.85" y="731.65" width="6.3" height="6.3" fill="#d0042b"/>
<rect x="210.15" y="678.35" width="6.3" height="6.3" fill="#174a87"/>
<rect x="229.15" y="678.55" width="6.3" height="6.3" fill="#174a87"/>
<rect x="210.15" y="686.65" width="6.3" height="6.3" fill="#174a87"/>
<rect x="229.15" y="692.15" width="6.3" height="6.3" fill="#174a87"/>
<rect x="220.05" y="726.85" width="6.3" height="6.3" fill="#174a87"/>
<line x1="80" y1="568.5" x2="80" y2="743.4" stroke="#000" stroke-width="1.65"/>
<line x1="79.2" y1="742.6" x2="248.5" y2="742.6" stroke="#000" stroke-width="1.65"/>
<line x1="75.2" y1="573.3" x2="80" y2="573.3" stroke="#000" stroke-width="1.5"/>
<text transform="translate(70.4,577.55) scale(1.156,1)" font-size="11.8" text-anchor="end" font-weight="normal" fill="#111">25</text>
<line x1="75.2" y1="607.16" x2="80" y2="607.16" stroke="#000" stroke-width="1.5"/>
<text transform="translate(70.4,611.41) scale(1.156,1)" font-size="11.8" text-anchor="end" font-weight="normal" fill="#111">20</text>
<line x1="75.2" y1="641.02" x2="80" y2="641.02" stroke="#000" stroke-width="1.5"/>
<text transform="translate(70.4,645.27) scale(1.156,1)" font-size="11.8" text-anchor="end" font-weight="normal" fill="#111">15</text>
<line x1="75.2" y1="674.88" x2="80" y2="674.88" stroke="#000" stroke-width="1.5"/>
<text transform="translate(70.4,679.13) scale(1.156,1)" font-size="11.8" text-anchor="end" font-weight="normal" fill="#111">10</text>
<line x1="75.2" y1="708.74" x2="80" y2="708.74" stroke="#000" stroke-width="1.5"/>
<text transform="translate(70.4,712.99) scale(1.156,1)" font-size="11.8" text-anchor="end" font-weight="normal" fill="#111">5</text>
<line x1="75.2" y1="742.6" x2="80" y2="742.6" stroke="#000" stroke-width="1.5"/>
<text transform="translate(70.4,746.85) scale(1.156,1)" font-size="11.8" text-anchor="end" font-weight="normal" fill="#111">0</text>
<line x1="106" y1="742.6" x2="106" y2="747.2" stroke="#111" stroke-width="1.5"/>
<line x1="145" y1="742.6" x2="145" y2="747.2" stroke="#111" stroke-width="1.5"/>
<line x1="184" y1="742.6" x2="184" y2="747.2" stroke="#111" stroke-width="1.5"/>
<line x1="223" y1="742.6" x2="223" y2="747.2" stroke="#111" stroke-width="1.5"/>
<line x1="96.3" y1="759.55" x2="103.1" y2="759.55" stroke="#1a1a1a" stroke-width="1.1"/>
<line x1="99.7" y1="756.25" x2="99.7" y2="762.85" stroke="#1a1a1a" stroke-width="1.2"/>
<line x1="105" y1="762.95" x2="107.6" y2="754.75" stroke="#1a1a1a" stroke-width="1.05"/>
<line x1="109.4" y1="759.55" x2="115.3" y2="759.55" stroke="#1a1a1a" stroke-width="1.1"/>
<line x1="136.2" y1="759.55" x2="141" y2="759.55" stroke="#1a1a1a" stroke-width="1.1"/>
<line x1="143" y1="762.95" x2="146.1" y2="754.95" stroke="#1a1a1a" stroke-width="1.05"/>
<line x1="147.7" y1="759.55" x2="153.4" y2="759.55" stroke="#1a1a1a" stroke-width="1.1"/>
<line x1="174.3" y1="759.55" x2="181.1" y2="759.55" stroke="#1a1a1a" stroke-width="1.1"/>
<line x1="177.7" y1="756.25" x2="177.7" y2="762.85" stroke="#1a1a1a" stroke-width="1.2"/>
<line x1="183" y1="762.95" x2="185.6" y2="754.75" stroke="#1a1a1a" stroke-width="1.05"/>
<line x1="187.4" y1="759.55" x2="193.3" y2="759.55" stroke="#1a1a1a" stroke-width="1.1"/>
<line x1="214.2" y1="759.55" x2="219" y2="759.55" stroke="#1a1a1a" stroke-width="1.1"/>
<line x1="221" y1="762.95" x2="224.1" y2="754.95" stroke="#1a1a1a" stroke-width="1.05"/>
<line x1="225.7" y1="759.55" x2="231.4" y2="759.55" stroke="#1a1a1a" stroke-width="1.1"/>
<line x1="88.2" y1="770.9" x2="154.5" y2="770.9" stroke="#111" stroke-width="1.4"/>
<line x1="168.2" y1="770.9" x2="234.6" y2="770.9" stroke="#111" stroke-width="1.4"/>
<text transform="translate(121.3,787) scale(1.156,1)" font-size="11.8" text-anchor="middle" font-weight="normal" fill="#111">P0</text>
<text transform="translate(201.6,787) scale(1.156,1)" font-size="11.8" text-anchor="middle" font-weight="normal" fill="#111">P14</text>
<line x1="105.1" y1="580.9" x2="145.8" y2="580.9" stroke="#2a2a2a" stroke-width="1.6"/>
<polygon points="122.95,571.8 123.49,573.25 125.04,573.32 123.83,574.29 124.24,575.78 122.95,574.92 121.66,575.78 122.07,574.29 120.86,573.32 122.41,573.25" fill="#111"/>
<polygon points="127.95,571.8 128.49,573.25 130.04,573.32 128.83,574.29 129.24,575.78 127.95,574.92 126.66,575.78 127.07,574.29 125.86,573.32 127.41,573.25" fill="#111"/>
<text transform="translate(12.2,561.7) scale(0.93,1)" font-size="19.2" text-anchor="start" font-weight="bold" fill="#000">E</text>
<text transform="translate(46.2,685.83) rotate(-90) scale(0.6906,1)" font-size="15.0" fill="#111" stroke="#111" stroke-width="0.3">CLP (</text>
<text transform="translate(46.2,651.14) rotate(-90) scale(0.6529,1)" font-size="15.0" fill="#111" stroke="#111" stroke-width="0.3">1000)</text>
<line x1="39.85" y1="652.35" x2="45.55" y2="658.05" stroke="#111" stroke-width="0.95"/>
<line x1="39.85" y1="658.05" x2="45.55" y2="652.35" stroke="#111" stroke-width="0.95"/>
<rect x="355" y="684.1" width="24" height="58.5" fill="#dc786b"/>
<rect x="393.8" y="675.1" width="24" height="67.5" fill="#7584b1"/>
<rect x="432.6" y="686.2" width="24" height="56.4" fill="#dc786b"/>
<rect x="471.7" y="685.6" width="24" height="57" fill="#7584b1"/>
<line x1="366.8" y1="677.7" x2="366.8" y2="688.1" stroke="#1a1a1a" stroke-width="1.5"/>
<line x1="360" y1="677.7" x2="373.6" y2="677.7" stroke="#1a1a1a" stroke-width="1.5"/>
<line x1="360" y1="688.1" x2="373.6" y2="688.1" stroke="#1a1a1a" stroke-width="1.5"/>
<line x1="405.4" y1="665.6" x2="405.4" y2="682" stroke="#1a1a1a" stroke-width="1.5"/>
<line x1="398.6" y1="665.6" x2="412.2" y2="665.6" stroke="#1a1a1a" stroke-width="1.5"/>
<line x1="398.6" y1="682" x2="412.2" y2="682" stroke="#1a1a1a" stroke-width="1.5"/>
<line x1="444.7" y1="642.4" x2="444.7" y2="727.7" stroke="#1a1a1a" stroke-width="1.5"/>
<line x1="437.9" y1="642.4" x2="451.5" y2="642.4" stroke="#1a1a1a" stroke-width="1.5"/>
<line x1="437.9" y1="727.7" x2="451.5" y2="727.7" stroke="#1a1a1a" stroke-width="1.5"/>
<line x1="483.7" y1="655.3" x2="483.7" y2="713.5" stroke="#1a1a1a" stroke-width="1.5"/>
<line x1="476.9" y1="655.3" x2="490.5" y2="655.3" stroke="#1a1a1a" stroke-width="1.5"/>
<line x1="476.9" y1="713.5" x2="490.5" y2="713.5" stroke="#1a1a1a" stroke-width="1.5"/>
<circle cx="356.8" cy="678" r="3.25" fill="#d0042b"/>
<circle cx="366.8" cy="678.9" r="3.25" fill="#d0042b"/>
<circle cx="376.7" cy="684.6" r="3.25" fill="#d0042b"/>
<circle cx="356.8" cy="689.8" r="3.25" fill="#d0042b"/>
<circle cx="395.7" cy="665.9" r="3.25" fill="#174a87"/>
<circle cx="415.6" cy="666.8" r="3.25" fill="#174a87"/>
<circle cx="395.7" cy="676" r="3.25" fill="#174a87"/>
<circle cx="415.6" cy="677.7" r="3.25" fill="#174a87"/>
<circle cx="405.4" cy="685.5" r="3.25" fill="#174a87"/>
<rect x="441.55" y="617.25" width="6.3" height="6.3" fill="#d0042b"/>
<rect x="441.55" y="648.75" width="6.3" height="6.3" fill="#d0042b"/>
<rect x="441.55" y="659.25" width="6.3" height="6.3" fill="#d0042b"/>
<rect x="441.55" y="683.35" width="6.3" height="6.3" fill="#d0042b"/>
<rect x="441.55" y="720.25" width="6.3" height="6.3" fill="#d0042b"/>
<rect x="450.95" y="720.55" width="6.3" height="6.3" fill="#d0042b"/>
<rect x="431.95" y="726.25" width="6.3" height="6.3" fill="#d0042b"/>
<rect x="480.55" y="644.05" width="6.3" height="6.3" fill="#174a87"/>
<rect x="470.85" y="667.75" width="6.3" height="6.3" fill="#174a87"/>
<rect x="489.85" y="666.35" width="6.3" height="6.3" fill="#174a87"/>
<rect x="489.85" y="672.45" width="6.3" height="6.3" fill="#174a87"/>
<rect x="480.55" y="677.45" width="6.3" height="6.3" fill="#174a87"/>
<rect x="480.55" y="712.45" width="6.3" height="6.3" fill="#174a87"/>
<rect x="480.55" y="728.55" width="6.3" height="6.3" fill="#174a87"/>
<line x1="340.8" y1="568.5" x2="340.8" y2="743.4" stroke="#000" stroke-width="1.65"/>
<line x1="340" y1="742.6" x2="509" y2="742.6" stroke="#000" stroke-width="1.65"/>
<line x1="336" y1="573.3" x2="340.8" y2="573.3" stroke="#000" stroke-width="1.5"/>
<text transform="translate(331.2,577.55) scale(1.156,1)" font-size="11.8" text-anchor="end" font-weight="normal" fill="#111">150</text>
<line x1="336" y1="629.73" x2="340.8" y2="629.73" stroke="#000" stroke-width="1.5"/>
<text transform="translate(331.2,633.98) scale(1.156,1)" font-size="11.8" text-anchor="end" font-weight="normal" fill="#111">100</text>
<line x1="336" y1="686.17" x2="340.8" y2="686.17" stroke="#000" stroke-width="1.5"/>
<text transform="translate(331.2,690.42) scale(1.156,1)" font-size="11.8" text-anchor="end" font-weight="normal" fill="#111">50</text>
<line x1="336" y1="742.6" x2="340.8" y2="742.6" stroke="#000" stroke-width="1.5"/>
<text transform="translate(331.2,746.85) scale(1.156,1)" font-size="11.8" text-anchor="end" font-weight="normal" fill="#111">0</text>
<line x1="366.5" y1="742.6" x2="366.5" y2="747.2" stroke="#111" stroke-width="1.5"/>
<line x1="405.5" y1="742.6" x2="405.5" y2="747.2" stroke="#111" stroke-width="1.5"/>
<line x1="444.5" y1="742.6" x2="444.5" y2="747.2" stroke="#111" stroke-width="1.5"/>
<line x1="483.5" y1="742.6" x2="483.5" y2="747.2" stroke="#111" stroke-width="1.5"/>
<line x1="356.8" y1="759.55" x2="363.6" y2="759.55" stroke="#1a1a1a" stroke-width="1.1"/>
<line x1="360.2" y1="756.25" x2="360.2" y2="762.85" stroke="#1a1a1a" stroke-width="1.2"/>
<line x1="365.5" y1="762.95" x2="368.1" y2="754.75" stroke="#1a1a1a" stroke-width="1.05"/>
<line x1="369.9" y1="759.55" x2="375.8" y2="759.55" stroke="#1a1a1a" stroke-width="1.1"/>
<line x1="396.7" y1="759.55" x2="401.5" y2="759.55" stroke="#1a1a1a" stroke-width="1.1"/>
<line x1="403.5" y1="762.95" x2="406.6" y2="754.95" stroke="#1a1a1a" stroke-width="1.05"/>
<line x1="408.2" y1="759.55" x2="413.9" y2="759.55" stroke="#1a1a1a" stroke-width="1.1"/>
<line x1="434.8" y1="759.55" x2="441.6" y2="759.55" stroke="#1a1a1a" stroke-width="1.1"/>
<line x1="438.2" y1="756.25" x2="438.2" y2="762.85" stroke="#1a1a1a" stroke-width="1.2"/>
<line x1="443.5" y1="762.95" x2="446.1" y2="754.75" stroke="#1a1a1a" stroke-width="1.05"/>
<line x1="447.9" y1="759.55" x2="453.8" y2="759.55" stroke="#1a1a1a" stroke-width="1.1"/>
<line x1="474.7" y1="759.55" x2="479.5" y2="759.55" stroke="#1a1a1a" stroke-width="1.1"/>
<line x1="481.5" y1="762.95" x2="484.6" y2="754.95" stroke="#1a1a1a" stroke-width="1.05"/>
<line x1="486.2" y1="759.55" x2="491.9" y2="759.55" stroke="#1a1a1a" stroke-width="1.1"/>
<line x1="348.7" y1="770.9" x2="415" y2="770.9" stroke="#111" stroke-width="1.4"/>
<line x1="428.7" y1="770.9" x2="495.1" y2="770.9" stroke="#111" stroke-width="1.4"/>
<text transform="translate(381.8,787) scale(1.156,1)" font-size="11.8" text-anchor="middle" font-weight="normal" fill="#111">P0</text>
<text transform="translate(462.1,787) scale(1.156,1)" font-size="11.8" text-anchor="middle" font-weight="normal" fill="#111">P14</text>
<text transform="translate(273.2,561.7) scale(0.93,1)" font-size="19.2" text-anchor="start" font-weight="bold" fill="#000">F</text>
<text transform="translate(300.6,703.68) rotate(-90) scale(0.7046,1)" font-size="15.0" fill="#111" stroke="#111" stroke-width="0.3">pre-CFU-E (</text>
<text transform="translate(300.6,638.04) rotate(-90) scale(0.7328,1)" font-size="15.0" fill="#111" stroke="#111" stroke-width="0.3">1000)</text>
<line x1="293.15" y1="639.15" x2="298.85" y2="644.85" stroke="#111" stroke-width="0.95"/>
<line x1="293.15" y1="644.85" x2="298.85" y2="639.15" stroke="#111" stroke-width="0.95"/>
<rect x="0.5" y="0.5" width="519" height="798" fill="none" stroke="#111" stroke-width="1.1"/>
</svg>
</body></html>
